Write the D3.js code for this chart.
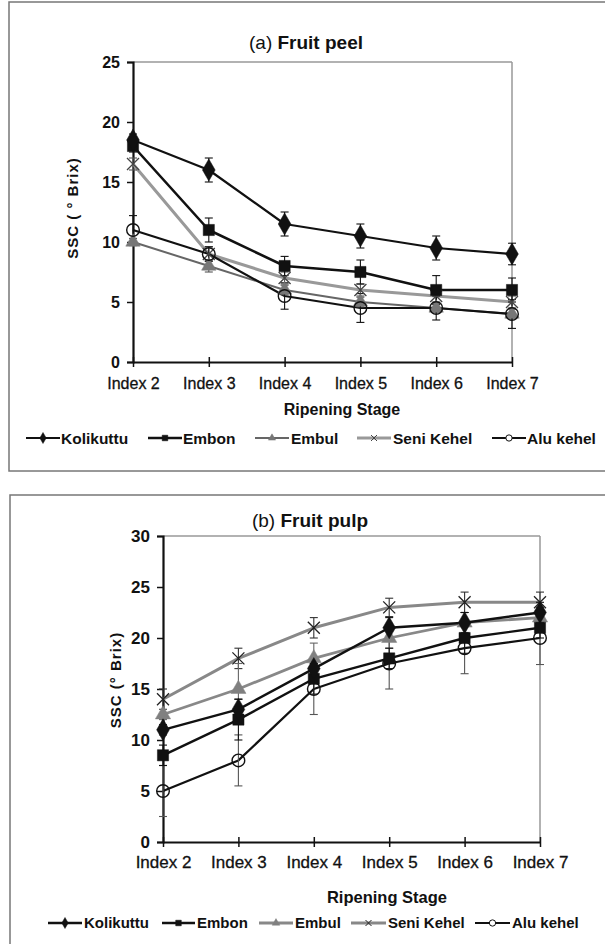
<!DOCTYPE html>
<html>
<head>
<meta charset="utf-8">
<script src="https://cdn.jsdelivr.net/npm/d3@7"></script>
<style>
  html, body { margin: 0; padding: 0; background: #fff; }
  svg { display: block; font-family: "Liberation Sans", Arial, sans-serif; }
</style>
</head>
<body>
<svg id="chart" width="605" height="944"></svg>
<script>
// ---------- DATA ----------
const categories = ["Index 2", "Index 3", "Index 4", "Index 5", "Index 6", "Index 7"];
const seriesNames = ["Kolikuttu", "Embon", "Embul", "Seni Kehel", "Alu kehel"];

// (a) Fruit peel
const peelKolikuttu = [18.5, 16, 11.5, 10.5, 9.5, 9];
const peelEmbon     = [18, 11, 8, 7.5, 6, 6];
const peelEmbul     = [10, 8, 6, 5, 4.5, 4];
const peelSeni      = [16.5, 9, 7, 6, 5.5, 5];
const peelAlu       = [11, 9, 5.5, 4.5, 4.5, 4];
const peelErrKolikuttu = [0.5, 1, 1, 1, 1, 0.9];
const peelErrEmbon     = [0.5, 1, 0.8, 1, 1.2, 1];
const peelErrEmbul     = [0.3, 0.5, 0.4, 0.4, 0.4, 0.4];
const peelErrSeni      = [0.5, 0.6, 0.5, 0.5, 0.5, 0.5];
const peelErrAlu       = [1.2, 0.6, 1.1, 1.2, 1, 1.2];
const peelTicks = [0, 5, 10, 15, 20, 25];

// (b) Fruit pulp
const pulpKolikuttu = [11, 13, 17, 21, 21.5, 22.5];
const pulpEmbon     = [8.5, 12, 16, 18, 20, 21];
const pulpEmbul     = [12.5, 15, 18, 20, 21.5, 22];
const pulpSeni      = [14, 18, 21, 23, 23.5, 23.5];
const pulpAlu       = [5, 8, 15, 17.5, 19, 20];
const pulpErrKolikuttu = [0.5, 1, 1, 1, 1, 1];
const pulpErrEmbon     = [1, 2, 1.5, 1, 1.5, 1];
const pulpErrEmbul     = [0.5, 2.5, 1.5, 1, 1, 1];
const pulpErrSeni      = [1, 1, 1, 0.9, 1, 1];
const pulpErrAlu       = [2.5, 2.5, 2.5, 2.5, 2.5, 2.6];
const pulpTicks = [0, 5, 10, 15, 20, 25, 30];

// ---------- LAYOUT / STYLE ----------
const svg = d3.select("#chart");

const panels = [
  {
    border: {x: 9, y: 2, w: 640, h: 469},
    titleA: "(a) ", titleB: "Fruit peel", titleX: 306, titleY: 49, titleSize: 19,
    xRange: [133, 512], yRange: [362, 62], yMax: 25, ticks: peelTicks,
    yTickSize: 16, xTickSize: 16, xTickY: 389,
    ylabel: "SSC ( ° Brix)", ylabelX: 72, ylabelY: 208,
    xlabelX: 342, xlabelY: 415, xlabelSize: 16,
    legendY: 438, legendSize: 15.5, legendWeight: "bold",
    legendPos: [[26, 60, 61], [148, 182, 183], [255, 289, 291], [357, 391, 393], [492, 526, 527]],
    values: [peelKolikuttu, peelEmbon, peelEmbul, peelSeni, peelAlu],
    errors: [peelErrKolikuttu, peelErrEmbon, peelErrEmbul, peelErrSeni, peelErrAlu],
    styles: [
      {line: "#111", w: 2.2, sym: "diamond", size: 140, fill: "#111", stroke: "#111", err: "#111"},
      {line: "#111", w: 2.6, sym: "square", size: 125, fill: "#111", stroke: "#111", err: "#111"},
      {line: "#666", w: 2, sym: "triangle", size: 90, fill: "#777", stroke: "#777", err: "#555"},
      {line: "#999", w: 3, sym: "x", size: 6, fill: "none", stroke: "#444", err: "#555"},
      {line: "#111", w: 2.2, sym: "circle", size: 125, fill: "none", stroke: "#111", err: "#111"}
    ]
  },
  {
    border: {x: 10, y: 495, w: 640, h: 500},
    titleA: "(b) ", titleB: "Fruit pulp", titleX: 310, titleY: 527, titleSize: 19,
    xRange: [163, 540], yRange: [842, 536], yMax: 30, ticks: pulpTicks,
    yTickSize: 17, xTickSize: 17, xTickY: 868,
    ylabel: "SSC  (° Brix)", ylabelX: 115, ylabelY: 680,
    xlabelX: 387, xlabelY: 903, xlabelSize: 16.5,
    legendY: 923, legendSize: 15, legendWeight: "bold",
    legendPos: [[48, 82, 84], [162, 195, 197], [259, 293, 295], [351, 386, 388], [475, 510, 512]],
    values: [pulpKolikuttu, pulpEmbon, pulpEmbul, pulpSeni, pulpAlu],
    errors: [pulpErrKolikuttu, pulpErrEmbon, pulpErrEmbul, pulpErrSeni, pulpErrAlu],
    styles: [
      {line: "#111", w: 2.4, sym: "diamond", size: 140, fill: "#111", stroke: "#111", err: "#111"},
      {line: "#111", w: 2.4, sym: "square", size: 125, fill: "#111", stroke: "#111", err: "#111"},
      {line: "#888", w: 2.8, sym: "triangle", size: 100, fill: "#808080", stroke: "#808080", err: "#666"},
      {line: "#888", w: 3, sym: "x", size: 6, fill: "none", stroke: "#222", err: "#333"},
      {line: "#111", w: 2.2, sym: "circle", size: 125, fill: "none", stroke: "#111", err: "#555"}
    ]
  }
];

const symTypes = {
  diamond: d3.symbolDiamond, square: d3.symbolSquare,
  triangle: d3.symbolTriangle, circle: d3.symbolCircle
};

function drawMarker(g, x, y, st, scale) {
  if (st.sym === "x") {
    const r = st.size * scale;
    g.append("path")
      .attr("d", `M${x - r},${y - r}L${x + r},${y + r}M${x - r},${y + r}L${x + r},${y - r}`)
      .attr("stroke", st.stroke).attr("stroke-width", scale < 1 ? 1 : 1.3).attr("fill", "none");
  } else {
    g.append("path")
      .attr("transform", `translate(${x},${y})`)
      .attr("d", d3.symbol().type(symTypes[st.sym]).size(st.size * scale * scale)())
      .attr("fill", st.fill === "none" ? (scale < 1 ? "#fff" : "none") : st.fill)
      .attr("stroke", st.stroke)
      .attr("stroke-width", st.sym === "circle" ? (scale < 1 ? 1 : 1.4) : 0.5);
  }
}

panels.forEach(p => {
  const g = svg.append("g");

  // panel border
  g.append("rect")
    .attr("x", p.border.x).attr("y", p.border.y)
    .attr("width", p.border.w).attr("height", p.border.h)
    .attr("fill", "none").attr("stroke", "#777").attr("stroke-width", 1.5);

  const x = d3.scalePoint().domain(categories).range(p.xRange);
  const y = d3.scaleLinear().domain([0, p.yMax]).range(p.yRange);

  // gray top / right frame
  g.append("line")
    .attr("x1", p.xRange[0]).attr("x2", p.xRange[1])
    .attr("y1", y(p.yMax)).attr("y2", y(p.yMax))
    .attr("stroke", "#999").attr("stroke-width", 1.5);
  g.append("line")
    .attr("x1", p.xRange[1]).attr("x2", p.xRange[1])
    .attr("y1", y(p.yMax)).attr("y2", y(0))
    .attr("stroke", "#999").attr("stroke-width", 1.5);

  // y axis
  const ya = g.append("g")
    .attr("transform", `translate(${p.xRange[0]},0)`)
    .call(d3.axisLeft(y).tickValues(p.ticks).tickSize(6).tickPadding(7).tickFormat(d3.format("d")));
  ya.select(".domain").attr("stroke", "#111").attr("stroke-width", 2.2);
  ya.selectAll(".tick line").attr("stroke", "#111").attr("stroke-width", 1.5);
  ya.selectAll(".tick text")
    .attr("font-family", "Liberation Sans, Arial, sans-serif")
    .attr("font-size", p.yTickSize).attr("font-weight", "bold").attr("fill", "#111");

  // series lines (drawn first), then error bars, then markers
  const line = d3.line().x((d, i) => x(categories[i])).y(d => y(d));
  const drawOrder = [3, 2, 4, 1, 0];
  drawOrder.forEach(si => {
    const st = p.styles[si];
    g.append("path")
      .datum(p.values[si])
      .attr("d", line)
      .attr("fill", "none")
      .attr("stroke", st.line)
      .attr("stroke-width", st.w)
      .attr("stroke-linejoin", "round");
  });

  drawOrder.forEach(si => {
    const st = p.styles[si];
    const eg = g.append("g").attr("stroke", st.err).attr("stroke-width", 1.1);
    p.values[si].forEach((v, i) => {
      const cx = x(categories[i]);
      const e = p.errors[si][i];
      const top = y(v + e), bot = y(Math.max(0, v - e));
      eg.append("line").attr("x1", cx).attr("x2", cx).attr("y1", top).attr("y2", bot);
      eg.append("line").attr("x1", cx - 4).attr("x2", cx + 4).attr("y1", top).attr("y2", top);
      eg.append("line").attr("x1", cx - 4).attr("x2", cx + 4).attr("y1", bot).attr("y2", bot);
    });
  });

  drawOrder.forEach(si => {
    const st = p.styles[si];
    const mg = g.append("g");
    p.values[si].forEach((v, i) => drawMarker(mg, x(categories[i]), y(v), st, 1));
  });

  // x axis (drawn on top)
  const xa = g.append("g")
    .attr("transform", `translate(0,${y(0)})`)
    .call(d3.axisBottom(x).tickSize(0).tickPadding(0));
  xa.select(".domain").attr("stroke", "#111").attr("stroke-width", 2.2);
  xa.selectAll(".tick line").attr("y1", -5).attr("y2", 5).attr("stroke", "#111").attr("stroke-width", 1.5);
  xa.selectAll(".tick text")
    .attr("y", p.xTickY - y(0)).attr("dy", 0)
    .attr("font-family", "Liberation Sans, Arial, sans-serif")
    .attr("font-size", p.xTickSize).attr("fill", "#111")
    .attr("stroke", "#111").attr("stroke-width", 0.3);

  // title
  const t = g.append("text")
    .attr("x", p.titleX).attr("y", p.titleY)
    .attr("text-anchor", "middle")
    .attr("font-size", p.titleSize).attr("fill", "#111");
  t.append("tspan").text(p.titleA);
  t.append("tspan").attr("font-weight", "bold").text(p.titleB);

  // y label
  g.append("text")
    .attr("transform", `translate(${p.ylabelX},${p.ylabelY}) rotate(-90)`)
    .attr("text-anchor", "middle").attr("dominant-baseline", "central")
    .attr("font-size", 15).attr("font-weight", "bold").attr("letter-spacing", 1)
    .attr("fill", "#111").text(p.ylabel);

  // x label
  g.append("text")
    .attr("x", p.xlabelX).attr("y", p.xlabelY)
    .attr("text-anchor", "middle")
    .attr("font-size", p.xlabelSize).attr("font-weight", "bold")
    .attr("fill", "#111").text("Ripening Stage");

  // legend
  seriesNames.forEach((name, si) => {
    const st = p.styles[si];
    const [l1, l2, tx] = p.legendPos[si];
    const ly = p.legendY;
    g.append("line")
      .attr("x1", l1).attr("x2", l2).attr("y1", ly).attr("y2", ly)
      .attr("stroke", st.line).attr("stroke-width", st.w);
    drawMarker(g, (l1 + l2) / 2, ly, st, 0.5);
    g.append("text")
      .attr("x", tx).attr("y", ly).attr("dy", "0.36em")
      .attr("font-size", p.legendSize).attr("font-weight", p.legendWeight)
      .attr("fill", "#111").text(name);
  });
});
</script>
</body>
</html>
